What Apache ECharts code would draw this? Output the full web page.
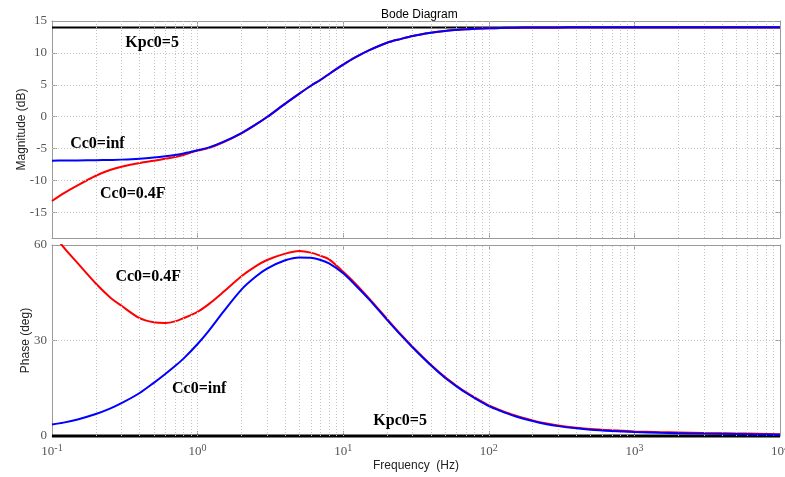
<!DOCTYPE html>
<html>
<head>
<meta charset="utf-8">
<script src="https://cdn.jsdelivr.net/npm/echarts@6/dist/echarts.min.js"></script>
<style>html,body{margin:0;padding:0;background:#fff}#c{width:785px;height:477px}</style>
</head>
<body>
<div id="c"></div>
<script>
const freq = [0.1,0.12,0.15,0.2,0.25,0.3,0.4,0.5,0.6,0.7,0.8,1,1.2,1.5,2,2.5,3,4,5,6,7,8,10,12,15,20,25,30,40,50,60,70,80,100,120,150,200,250,300,400,500,700,1000,1500,2000,3000,5000,7000,10000];
const magInf = [-6.88,-6.87,-6.85,-6.82,-6.77,-6.72,-6.58,-6.4,-6.2,-5.98,-5.75,-5.25,-4.8,-3.95,-2.55,-1.25,-0.05,2.05,3.62,4.85,5.8,6.7,8.15,9.25,10.4,11.6,12.2,12.65,13.15,13.45,13.6,13.7,13.78,13.86,13.9,13.95,13.98,14.0,14.0,14.01,14.01,14.02,14.02,14.02,14.02,14.02,14.02,14.02,14.02];
const mag04F = [-13.2,-12.0,-10.75,-9.25,-8.35,-7.85,-7.25,-6.9,-6.6,-6.3,-6.0,-5.3,-4.88,-4.0,-2.6,-1.25,-0.05,2.05,3.62,4.85,5.8,6.7,8.15,9.25,10.4,11.6,12.2,12.65,13.15,13.45,13.6,13.7,13.78,13.86,13.9,13.95,13.98,14.0,14.0,14.01,14.01,14.02,14.02,14.02,14.02,14.02,14.02,14.02,14.02];
const phInf = [3.6,4.2,5.2,6.9,8.6,10.3,13.5,16.7,19.5,22.0,24.3,28.9,33.2,39.0,46.0,50.0,52.6,55.2,56.1,56.0,55.3,54.2,51.1,47.6,43.0,36.5,31.6,27.8,22.2,18.3,15.6,13.5,11.9,9.4,7.9,6.3,4.7,3.7,3.1,2.4,2.0,1.6,1.26,1.0,0.9,0.75,0.6,0.5,0.4];
const ph04F = [64.5,59.3,54.3,47.9,43.6,40.9,37.0,35.7,35.5,36.0,37.0,39.0,41.5,45.2,50.2,53.3,55.3,57.3,58.1,57.6,56.6,55.5,51.6,48.1,43.3,36.8,31.8,28.0,22.4,18.5,15.8,13.7,12.1,9.6,8.1,6.5,4.9,3.9,3.3,2.6,2.2,1.8,1.45,1.2,1.1,0.95,0.8,0.7,0.55];
const kpcFreq = [0.1, 10000];
const kpcMag = [14, 14];
const kpcPhase = [0, 0];
const magTicks = [-15,-10,-5,0,5,10,15];
const xGridValues = [0.2,0.3,0.4,0.5,0.6,0.7,0.8,0.9,1,2,3,4,5,6,7,8,9,10,20,30,40,50,60,70,80,90,100,200,300,400,500,600,700,800,900,1000,2000,3000,4000,5000,6000,7000,8000,9000];
// annotations: [text, freq, value]
const magNotes = [["Kpc0=5",0.487,11.5],["Cc0=inf",0.205,-4.3],["Cc0=0.4F",0.359,-12.15]];
const phaseNotes = [["Cc0=0.4F",0.458,50.1],["Cc0=inf",1.026,14.8],["Kpc0=5",24.6,4.7]];

const pair = (xs, ys) => xs.map((x, i) => [x, ys[i]]);
const gridStyle = {color:'#c4c4c4', type:[1,2], width:1};
const frameColor = '#9a9a9a';
const tickLabelStyle = {color:'#555', fontFamily:'Liberation Serif', fontSize:13};

function gridLines(yVals){
  const d = [];
  xGridValues.forEach(v => d.push({xAxis: v}));
  yVals.forEach(v => d.push({yAxis: v}));
  return {silent:true, symbol:['none','none'], label:{show:false}, lineStyle:gridStyle, animation:false, data:d};
}
function notes(list){
  return {symbol:'circle', symbolSize:0, silent:true, animation:false,
    label:{show:true, position:'inside', color:'#000', fontFamily:'Liberation Serif', fontWeight:'bold', fontSize:16,
      formatter: p => p.name},
    data: list.map(n => ({name:n[0], coord:[n[1], n[2]]}))};
}
function xAx(grid, pos, labels, name){
  return {type:'log', logBase:10, gridIndex:grid, position:pos, min:0.1, max:10000,
    axisLine:{show:true, onZero:false, lineStyle:{color:frameColor, width:1}},
    axisTick:{show:true, inside:true, length:5, lineStyle:{color:frameColor}},
    splitLine:{show:false}, minorTick:{show:false},
    axisLabel: labels ? {show:true, margin:7, formatter: v => '{b|10}{s|' + Math.round(Math.log10(v)) + '}',
      rich:{b:{fontFamily:'Liberation Serif', fontSize:13, color:'#555', lineHeight:18},
            s:{fontFamily:'Liberation Serif', fontSize:10, color:'#555', verticalAlign:'top', lineHeight:10}}} : {show:false},
    name: name || '', nameLocation:'middle', nameGap:24, nameMoveOverlap:false,
    nameTextStyle:{fontFamily:'Liberation Sans', fontSize:12, color:'#222'}};
}
function yAx(grid, pos, min, max, extra){
  return Object.assign({type:'value', gridIndex:grid, min:min, max:max, position:pos,
    axisLine:{show:true, onZero:false, lineStyle:{color:frameColor}},
    axisTick:{show:true, inside:true, length:5, lineStyle:{color:frameColor}},
    axisLabel:{show:false}, splitLine:{show:false}}, extra || {});
}
const nameStyle = {fontFamily:'Liberation Sans', fontSize:12, color:'#222'};
const chart = echarts.init(document.getElementById('c'), null, {renderer:'canvas'});
chart.setOption({
  animation:false,
  backgroundColor:'#fff',
  title:{text:'Bode Diagram', left:376, top:4, textStyle:{fontFamily:'Liberation Sans', fontSize:12, fontWeight:'normal', color:'#000'}},
  grid:[{left:52, right:5, top:21, height:217, outerBoundsMode:'none', containLabel:false},
        {left:52, right:5, top:245, height:191, outerBoundsMode:'none', containLabel:false}],
  xAxis:[xAx(0,'bottom',false), xAx(0,'top',false), xAx(1,'bottom',true,'Frequency  (Hz)'), xAx(1,'top',false)],
  yAxis:[
    yAx(0,'left',-19,15,{
      axisTick:{show:true, inside:true, length:5, customValues:magTicks, lineStyle:{color:frameColor}},
      axisLabel:{show:true, customValues:magTicks, margin:5, ...tickLabelStyle},
      name:'Magnitude (dB)', nameLocation:'middle', nameGap:24, nameMoveOverlap:false, nameTextStyle:nameStyle}),
    yAx(0,'right',-19,15,{
      axisTick:{show:true, inside:true, length:5, customValues:magTicks, lineStyle:{color:frameColor}}}),
    yAx(1,'left',0,60,{interval:30,
      axisLabel:{show:true, margin:5, ...tickLabelStyle},
      name:'Phase (deg)', nameLocation:'middle', nameGap:20, nameMoveOverlap:false, nameTextStyle:nameStyle}),
    yAx(1,'right',0,60,{interval:30})
  ],
  series:[
    {type:'line', xAxisIndex:0, yAxisIndex:0, data:[], markLine:gridLines([-15,-10,-5,0,5,10]), z:1},
    {type:'line', xAxisIndex:2, yAxisIndex:2, data:[], markLine:gridLines([30]), z:1},
    {type:'line', name:'Kpc0=5', xAxisIndex:0, yAxisIndex:0, data:pair(kpcFreq,kpcMag), showSymbol:false, lineStyle:{color:'#000', width:2}, z:3},
    {type:'line', name:'Cc0=0.4F', xAxisIndex:0, yAxisIndex:0, data:pair(freq,mag04F), showSymbol:false, smooth:0.3, lineStyle:{color:'#ff0000', width:2}, z:4},
    {type:'line', name:'Cc0=inf', xAxisIndex:0, yAxisIndex:0, data:pair(freq,magInf), showSymbol:false, smooth:0.3, lineStyle:{color:'#0000ff', width:2}, z:5, markPoint:notes(magNotes)},
    {type:'line', name:'Kpc0=5 phase', xAxisIndex:2, yAxisIndex:2, data:pair(kpcFreq,kpcPhase), showSymbol:false, lineStyle:{color:'#000', width:3}, z:3, clip:false},
    {type:'line', name:'Cc0=0.4F phase', xAxisIndex:2, yAxisIndex:2, data:pair(freq,ph04F), showSymbol:false, smooth:0.3, lineStyle:{color:'#ff0000', width:2}, z:4, clip:true},
    {type:'line', name:'Cc0=inf phase', xAxisIndex:2, yAxisIndex:2, data:pair(freq,phInf), showSymbol:false, smooth:0.3, lineStyle:{color:'#0000ff', width:2}, z:5, markPoint:notes(phaseNotes)}
  ]
});
</script>
</body>
</html>
